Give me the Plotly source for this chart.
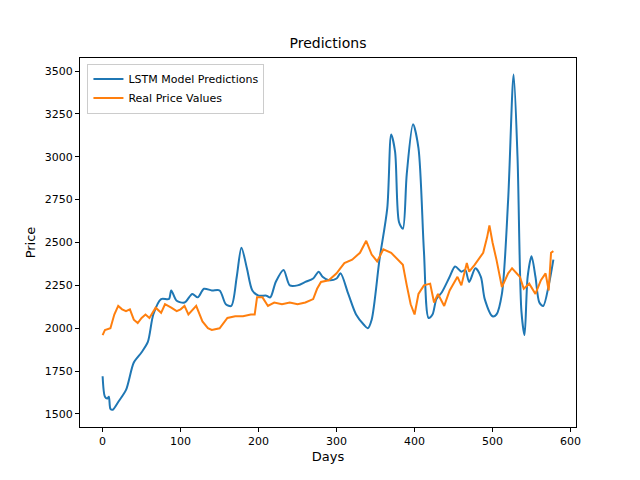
import plotly.graph_objects as go

pred_days = [0,3,6,8,10,13,20,30,40,50,58,65,75,85,88,95,105,115,122,130,140,150,158,165,172,178,185,192,200,210,215,222,232,240,250,260,270,277,282,290,300,305,315,325,335,340,345,355,365,370,375,380,385,390,398,405,412,418,423,428,435,445,452,460,465,470,478,485,490,500,505,512,520,527,532,537,541,545,550,555,560,565,572,578]
pred_vals = [1720,1600,1590,1600,1530,1525,1570,1640,1800,1860,1920,2080,2170,2170,2220,2160,2150,2200,2180,2230,2220,2220,2140,2130,2300,2470,2350,2220,2190,2190,2180,2270,2340,2250,2250,2270,2290,2330,2300,2280,2290,2320,2200,2080,2020,2000,2050,2400,2700,3130,3030,2620,2580,2900,3190,3050,2450,2060,2080,2170,2210,2300,2360,2330,2340,2270,2350,2300,2170,2070,2080,2200,2750,3480,3000,2100,1960,2300,2420,2300,2150,2130,2250,2400]

real_days = [0,3,10,15,20,25,30,35,40,45,50,55,60,68,75,80,88,95,100,105,110,120,128,135,140,150,160,170,180,190,195,198,205,212,220,230,240,250,260,270,275,280,290,300,305,310,320,330,338,345,352,360,370,378,385,390,395,400,405,412,420,425,430,438,445,455,460,467,470,477,482,488,493,496,500,505,512,520,525,535,540,547,555,562,568,572,575,578]
real_vals = [1960,1990,2000,2080,2130,2110,2100,2110,2050,2030,2060,2080,2060,2120,2090,2140,2120,2100,2110,2130,2080,2130,2040,2000,1990,2000,2060,2070,2070,2080,2080,2180,2180,2130,2150,2140,2150,2140,2150,2170,2230,2270,2280,2320,2350,2380,2400,2440,2510,2430,2390,2460,2440,2400,2370,2250,2140,2080,2200,2250,2260,2150,2200,2130,2220,2300,2250,2380,2330,2370,2400,2440,2530,2600,2500,2400,2240,2320,2350,2300,2230,2260,2200,2280,2320,2220,2440,2450]

fig = go.Figure()
fig.add_trace(go.Scatter(x=pred_days, y=pred_vals, mode="lines", name="LSTM Model Predictions",
                         line=dict(color="#1f77b4", width=2, shape="spline", smoothing=0.8)))
fig.add_trace(go.Scatter(x=real_days, y=real_vals, mode="lines", name="Real Price Values",
                         line=dict(color="#ff7f0e", width=2)))
axis = dict(showline=True, mirror=True, linecolor="black", linewidth=1, ticks="outside",
            ticklen=4, tickcolor="black", showgrid=False, zeroline=False,
            tickfont=dict(size=11, color="black"))
fig.update_layout(
    width=640, height=480, plot_bgcolor="white", paper_bgcolor="white",
    font=dict(family="DejaVu Sans", color="black", size=11),
    margin=dict(l=72, r=72, t=50, b=61),
    title=dict(text="Predictions", x=0.5, xanchor="center", y=0.927, yanchor="middle", font=dict(size=14)),
    xaxis=dict(axis, range=[-29, 607], tickvals=[0,100,200,300,400,500,600],
               title=dict(text="Days", standoff=4)),
    yaxis=dict(axis, range=[1424, 3576], tickvals=list(range(1500, 3501, 250)),
               title=dict(text="Price", standoff=6)),
    legend=dict(x=0.015, y=0.985, xanchor="left", yanchor="top", bgcolor="rgba(255,255,255,0.8)",
                bordercolor="#cccccc", borderwidth=1, font=dict(size=11)),
)
fig.write_html("out.html")
